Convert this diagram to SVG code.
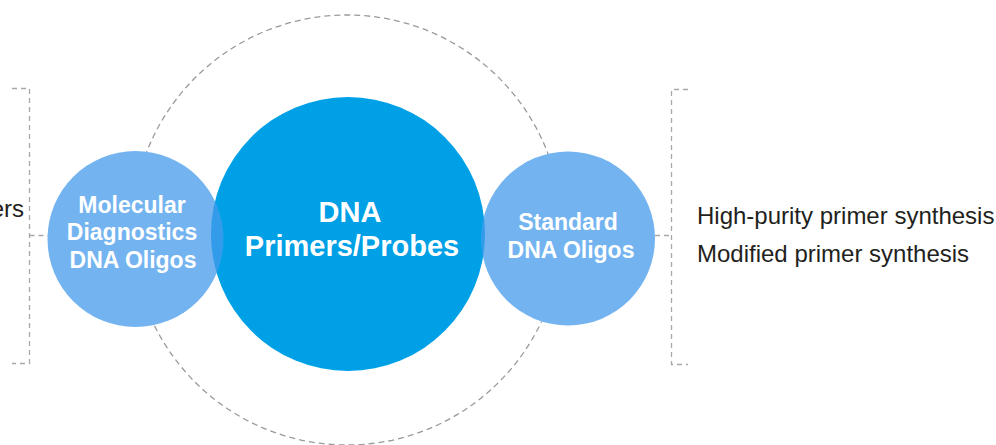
<svg xmlns="http://www.w3.org/2000/svg" width="996" height="445" viewBox="0 0 996 445">
<style>
.orbit{fill:none;stroke:#9a9a9a;stroke-width:1.3;stroke-dasharray:6 4}
.brk{fill:none;stroke:#a8a8a8;stroke-width:1.3;stroke-dasharray:5 4}
.main{fill:#00a0e6}
.sub{fill:#449beb;fill-opacity:0.75}
.ct{font-family:"Liberation Sans",Arial,sans-serif;font-weight:bold;fill:#ffffff;text-anchor:middle}
.lt{font-family:"Liberation Sans",Arial,sans-serif;fill:#231f20;font-size:24px}
</style>
<defs>
<mask id="orbitMask" maskUnits="userSpaceOnUse" x="0" y="0" width="996" height="445">
<rect width="996" height="445" fill="#ffffff"/>
<circle cx="135.5" cy="239" r="88" fill="#000000"/>
<circle cx="568" cy="238.5" r="87" fill="#000000"/>
<circle cx="348" cy="234" r="137" fill="#000000"/>
</mask>
</defs>
<rect width="996" height="445" fill="#ffffff"/>
<circle class="orbit" cx="347" cy="230" r="215" mask="url(#orbitMask)"/>
<g id="connectors">
<path class="brk" d="M12 88.5H29.5V363.5H12"/>
<path class="brk" d="M29.5 235.5H48"/>
<path class="brk" d="M688 89.5H671.5V364.5H688"/>
<path class="brk" d="M655 235.5H671.5"/>
</g>
<g id="node-center">
<circle class="main" cx="348" cy="234" r="137"/>
<text class="ct" font-size="29" x="350" y="222">DNA</text>
<text class="ct" font-size="29" x="352" y="256">Primers/Probes</text>
</g>
<g id="node-left">
<circle class="sub" cx="135.5" cy="239" r="88"/>
<text class="ct" font-size="23" x="132" y="213">Molecular</text>
<text class="ct" font-size="23" x="132" y="240">Diagnostics</text>
<text class="ct" font-size="23" x="133" y="268">DNA Oligos</text>
</g>
<g id="node-right">
<circle class="sub" cx="568" cy="238.5" r="87"/>
<text class="ct" font-size="23" x="568" y="230">Standard</text>
<text class="ct" font-size="23" x="571" y="258">DNA Oligos</text>
</g>
<g id="label-left">
<text class="lt" x="24" y="217" text-anchor="end">ers</text>
</g>
<g id="label-right">
<text class="lt" x="697" y="224">High-purity primer synthesis</text>
<text class="lt" x="697" y="262">Modified primer synthesis</text>
</g>
</svg>
